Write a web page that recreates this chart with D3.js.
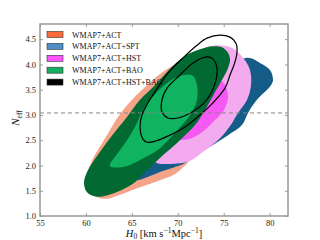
<!DOCTYPE html>
<html>
<head>
<meta charset="utf-8">
<script src="https://cdn.jsdelivr.net/npm/d3@7"></script>
<style>
  body { margin: 0; background: #fff; }
  svg { display: block; font-family: "Liberation Serif", "DejaVu Serif", serif; }
</style>
</head>
<body>
<svg width="320" height="240"></svg>
<script>
// contour outlines, [H0, Neff]
var actOuter = [[60.23,1.81],[60.55,2.05],[61.31,2.31],[62.29,2.60],[63.49,2.96],[65.02,3.30],[66.65,3.59],[68.06,3.81],[69.37,3.97],[70.79,4.09],[72.96,4.15],[74.38,3.89],[75.14,3.30],[74.05,2.70],[71.88,2.21],[69.70,1.83],[68.06,1.71],[65.89,1.57],[63.38,1.40],[62.29,1.34],[60.99,1.40]]
var sptOuter = [[65.56,1.71],[66.98,2.01],[69.15,2.50],[72.42,3.30],[75.14,3.89],[77.54,4.13],[78.95,4.03],[80.04,3.89],[80.37,3.69],[80.15,3.59],[78.62,3.30],[77.65,3.04],[76.99,2.80],[75.47,2.60],[72.96,2.31],[70.79,2.05],[68.06,1.87],[66.43,1.75]]
var hstOuter = [[67.52,2.07],[69.15,2.03],[71.33,2.09],[72.75,2.27],[74.60,2.54],[75.69,2.78],[76.56,3.04],[77.54,3.30],[77.97,3.59],[77.86,3.89],[77.10,4.13],[76.01,4.32],[74.27,4.38],[72.96,4.32],[71.33,4.09],[69.70,3.59],[68.06,2.90],[67.19,2.31]]
var hstInner = [[72.42,3.49],[73.83,3.69],[74.92,3.65],[75.47,3.36],[75.03,3.10],[73.94,2.88],[72.64,2.66],[71.11,2.52],[69.70,2.54],[69.15,2.70],[70.24,3.10]]
var baoOuter = [[59.79,1.67],[60.23,1.91],[61.31,2.21],[62.62,2.54],[64.47,2.96],[65.89,3.30],[67.52,3.59],[68.93,3.87],[70.79,4.17],[72.42,4.30],[73.83,4.36],[74.81,4.34],[75.47,4.23],[75.69,4.09],[75.47,3.93],[74.81,3.69],[74.05,3.45],[72.96,3.10],[71.88,2.80],[70.24,2.50],[68.06,2.15],[66.43,1.87],[65.34,1.67],[63.17,1.46],[61.21,1.38],[60.12,1.47]]
var baoInner = [[62.62,1.99],[63.49,2.25],[64.25,2.44],[65.34,2.76],[66.21,3.10],[67.19,3.34],[68.28,3.55],[69.70,3.73],[70.79,3.79],[71.66,3.77],[72.09,3.59],[72.09,3.30],[71.55,3.06],[70.46,2.80],[69.15,2.54],[67.85,2.31],[65.89,2.11],[64.04,1.97]]
var hbOuter = [[66.21,2.52],[65.89,2.76],[66.10,3.00],[66.76,3.24],[67.85,3.55],[68.93,3.83],[70.57,4.13],[72.09,4.38],[73.18,4.52],[74.60,4.58],[75.69,4.54],[76.34,4.42],[76.45,4.25],[76.23,4.05],[75.69,3.79],[75.14,3.53],[73.83,3.24],[72.42,3.00],[70.79,2.76],[69.15,2.60],[67.52,2.48],[66.65,2.46]]
var hbInner = [[68.28,3.06],[68.28,3.30],[68.83,3.53],[70.24,3.79],[71.66,4.03],[73.18,4.15],[73.83,4.11],[74.27,3.93],[74.16,3.69],[73.62,3.43],[72.75,3.22],[71.55,3.06],[70.02,2.94],[68.93,2.94]]

var legendLabels = ["WMAP7+ACT", "WMAP7+ACT+SPT", "WMAP7+ACT+HST", "WMAP7+ACT+BAO", "WMAP7+ACT+HST+BAO"]
var legendColors = ["#ff6a3a", "#4f8fc6", "#ff55ff", "#18b060", "#000000"]
var xTicks = [55, 60, 65, 70, 75, 80]
var yTicks = [1.0, 1.5, 2.0, 2.5, 3.0, 3.5, 4.0, 4.5]
var neffStd = 3.04

var svg = d3.select("svg")
var x = d3.scaleLinear().domain([55, 82]).range([40, 288])
var y = d3.scaleLinear().domain([1.0, 4.8]).range([216, 24])

let line = d3.line()
    .x((d) => x(d[0]))
    .y((d) => y(d[1]))
    .curve(d3.curveCatmullRomClosed.alpha(0.5))

var plot = svg.append("g")
plot.append("clipPath").attr("id", "clip")
    .append("rect").attr("x", 40).attr("y", 24).attr("width", 248).attr("height", 192)
var shapes = plot.append("g").attr("clip-path", "url(#clip)")

var fills = [
    [actOuter, "#f5a389"],
    [sptOuter, "#165c88"],
    [hstOuter, "#f4aaee"],
    [hstInner, "#f658f3"],
    [baoOuter, "#016a33"],
    [baoInner, "#10b35f"]
]
fills.forEach(function (f) {
    shapes.append("path").datum(f[0]).attr("d", line)
        .attr("fill", f[1]).attr("stroke", "none")
})
;[hbOuter, hbInner].forEach(function (c) {
    shapes.append("path").datum(c).attr("d", line)
        .attr("fill", "none").attr("stroke", "#000").attr("stroke-width", 1.2)
})

// standard Neff
shapes.append("line")
    .attr("x1", x(55)).attr("x2", x(82))
    .attr("y1", y(neffStd)).attr("y2", y(neffStd))
    .attr("stroke", "#888").attr("stroke-width", 1).attr("stroke-dasharray", "4,3")

// axes
var axisStyle = function (g) {
    g.select(".domain").remove()
    g.selectAll("line").attr("stroke", "#999").attr("stroke-width", 1)
    g.selectAll("text").attr("fill", "#222").style("font-size", "8.5px")
        .style("font-family", "Liberation Serif, serif")
}
svg.append("g").attr("transform", "translate(0,216)")
    .call(d3.axisBottom(x).tickValues(xTicks).tickSize(-3).tickPadding(4).tickFormat(d3.format("d")))
    .call(axisStyle)
svg.append("g").attr("transform", "translate(0,24)")
    .call(d3.axisTop(x).tickValues(xTicks).tickSize(-3).tickFormat(""))
    .call(axisStyle)
svg.append("g").attr("transform", "translate(40,0)")
    .call(d3.axisLeft(y).tickValues(yTicks).tickSize(-3).tickPadding(4).tickFormat(d3.format(".1f")))
    .call(axisStyle)
svg.append("g").attr("transform", "translate(288,0)")
    .call(d3.axisRight(y).tickValues(yTicks).tickSize(-3).tickFormat(""))
    .call(axisStyle)

svg.append("rect").attr("x", 40).attr("y", 24).attr("width", 248).attr("height", 192)
    .attr("fill", "none").attr("stroke", "#999").attr("stroke-width", 1.5)

// legend
var legend = svg.append("g")
legendLabels.forEach(function (lab, i) {
    var ly = 34.5 + i * 11.9
    legend.append("rect").attr("x", 47).attr("y", ly - 3).attr("width", 16).attr("height", 6)
        .attr("fill", legendColors[i]).attr("stroke", "#333").attr("stroke-width", 0.6)
    legend.append("text").attr("x", 72).attr("y", ly + 3)
        .style("font-size", "8px").attr("fill", "#111").text(lab)
})

// axis labels
var xl = svg.append("text").attr("x", 164).attr("y", 237).attr("text-anchor", "middle")
    .style("font-size", "10.5px").attr("fill", "#111")
xl.append("tspan").style("font-style", "italic").text("H")
xl.append("tspan").attr("dy", 2).style("font-size", "7.5px").text("0")
xl.append("tspan").attr("dy", -2).text(" [km s")
xl.append("tspan").attr("dy", -4).style("font-size", "7.5px").text("\u22121")
xl.append("tspan").attr("dy", 4).text("Mpc")
xl.append("tspan").attr("dy", -4).style("font-size", "7.5px").text("\u22121")
xl.append("tspan").attr("dy", 4).text("]")

var yl = svg.append("text").attr("transform", "translate(19,118) rotate(-90)")
    .attr("text-anchor", "middle").style("font-size", "11px").attr("fill", "#111")
yl.append("tspan").style("font-style", "italic").text("N")
yl.append("tspan").attr("dy", 2.5).style("font-size", "7.5px").text("eff")
</script>
</body>
</html>
